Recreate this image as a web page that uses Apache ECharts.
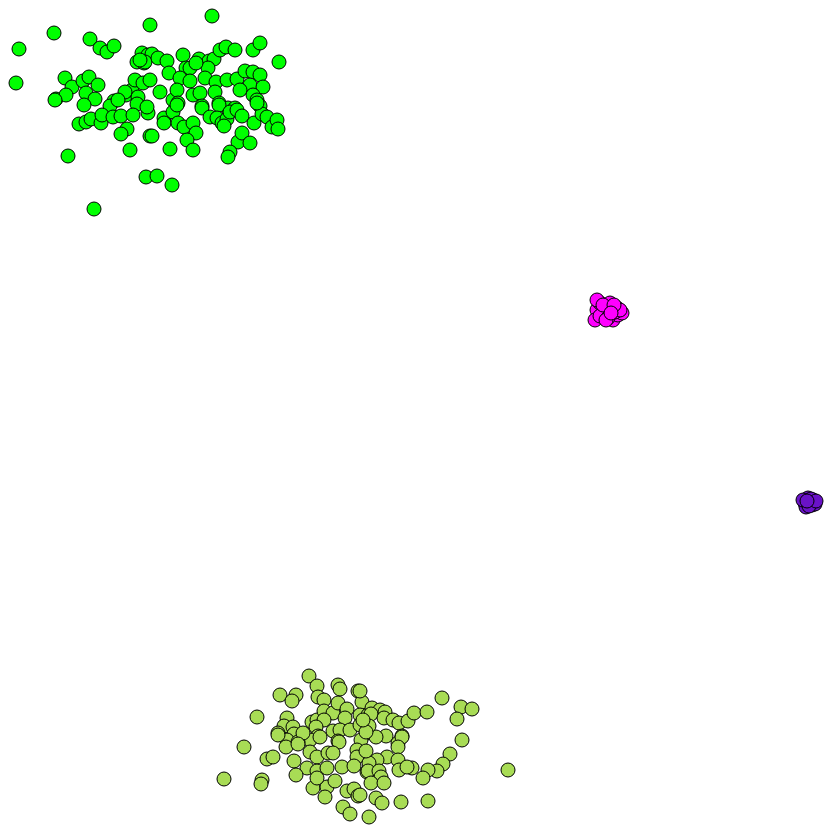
<!DOCTYPE html>
<html><head><meta charset="utf-8">
<script src="https://cdn.jsdelivr.net/npm/echarts@6/dist/echarts.min.js"></script>
<style>html,body{margin:0;padding:0;background:#fff}#c{width:832px;height:832px}</style>
</head><body><div id="c"></div>
<script>
// cluster points [x, y] in chart units (y grows downward)
const greenPts = [
[212,16],[150,25],[54,33],[19,49],[90,39],[100,48],[107,52],[114,46],[16,83],[65,78],[72,87],[56,99],[66,95],
[83,81],[89,77],[98,85],[86,93],[95,99],[84,105],[114,101],[110,106],[126,95],[132,90],[138,97],[137,104],
[135,80],[143,83],[137,62],[144,63],[142,53],[148,55],[152,54],[145,62],[158,58],[167,61],[169,73],[183,55],
[186,68],[190,68],[199,59],[209,61],[214,59],[208,68],[220,50],[226,47],[235,50],[253,50],[260,43],[279,62],
[150,80],[180,78],[190,81],[205,78],[216,82],[227,80],[237,79],[245,71],[253,72],[260,75],[250,85],[263,87],
[240,90],[160,92],[173,100],[177,90],[178,103],[193,95],[200,93],[215,92],[219,103],[202,106],[228,108],
[235,108],[253,95],[257,100],[260,106],[55,100],[79,124],[86,122],[91,119],[101,123],[102,115],[113,117],
[121,116],[133,115],[148,113],[127,129],[121,134],[130,150],[150,136],[146,177],[68,156],[94,209],
[164,118],[164,123],[173,112],[177,105],[202,108],[219,105],[210,117],[217,118],[222,123],[227,119],[230,112],
[237,110],[242,116],[254,123],[262,114],[267,117],[272,127],[277,120],[278,129],[257,103],[178,123],[184,127],
[193,123],[196,133],[187,140],[193,150],[170,149],[152,136],[238,142],[242,133],[250,143],[230,152],[228,157],
[157,176],[172,185],[224,126],[147,107],[140,60],[196,63],[125,92],[118,100]
];
const limePts = [
[309,676],[317,686],[338,685],[340,689],[358,691],[280,695],[296,695],[292,701],[318,697],[324,700],[362,702],
[257,717],[287,718],[284,726],[293,727],[278,733],[294,734],[287,740],[244,747],[312,722],[317,720],[324,711],
[333,713],[338,703],[347,709],[345,718],[324,720],[316,727],[333,731],[340,730],[350,730],[360,715],[368,715],
[360,725],[367,733],[318,736],[310,740],[298,742],[338,741],[361,740],[303,733],[360,691],[372,708],[380,710],
[385,712],[371,714],[384,718],[393,720],[399,723],[408,721],[414,713],[427,712],[442,698],[461,707],[472,709],
[457,719],[462,740],[402,736],[386,736],[376,737],[369,726],[366,732],[398,743],[363,720],[224,779],[267,759],
[273,757],[262,780],[261,784],[278,735],[286,747],[294,761],[298,744],[320,737],[339,742],[310,752],[307,768],
[317,757],[328,753],[333,753],[296,775],[317,771],[327,768],[342,767],[313,788],[327,787],[335,781],[325,797],
[347,791],[354,789],[358,796],[343,807],[350,814],[357,750],[357,757],[354,766],[367,772],[369,817],[317,778],
[450,754],[443,764],[437,771],[428,770],[423,778],[402,737],[398,747],[387,757],[398,760],[399,770],[412,768],
[407,767],[377,760],[369,763],[368,771],[379,771],[381,777],[371,783],[384,783],[366,751],[360,795],[376,798],
[382,803],[401,802],[428,801],[508,770]
];
const magentaPts = [
[597,310],[602,315],[612,315],[617,308],[607,307],[595,320],[613,320],[618,315],[600,303],[610,303],[622,313],
[597,300],[605,312],[610,310],[615,312],[600,316],[608,318],[620,310],[603,305],[614,305],[606,320],[611,313]
];
const purplePts = [
[810,502],[805,503],[813,500],[808,498],[812,505],[806,507],[815,504],[803,500],[809,506],[811,499],[816,501],[807,501]
];

const mk = (name, data, color) => ({
  name, type: 'scatter', data, symbolSize: 14,
  itemStyle: { color, borderColor: '#000', borderWidth: 1, opacity: 1 },
  emphasis: { disabled: true }
});

const chart = echarts.init(document.getElementById('c'));
chart.setOption({
  animation: false,
  backgroundColor: '#fff',
  grid: { left: 0, right: 0, top: 0, bottom: 0 },
  xAxis: { type: 'value', min: 0, max: 832, show: false },
  yAxis: { type: 'value', min: 0, max: 832, inverse: true, show: false },
  series: [
    mk('green', greenPts, '#00ff00'),
    mk('magenta', magentaPts, '#ff00ff'),
    mk('purple', purplePts, '#6a12c8'),
    mk('lime', limePts, '#a8dc55')
  ]
});
</script>
</body></html>
